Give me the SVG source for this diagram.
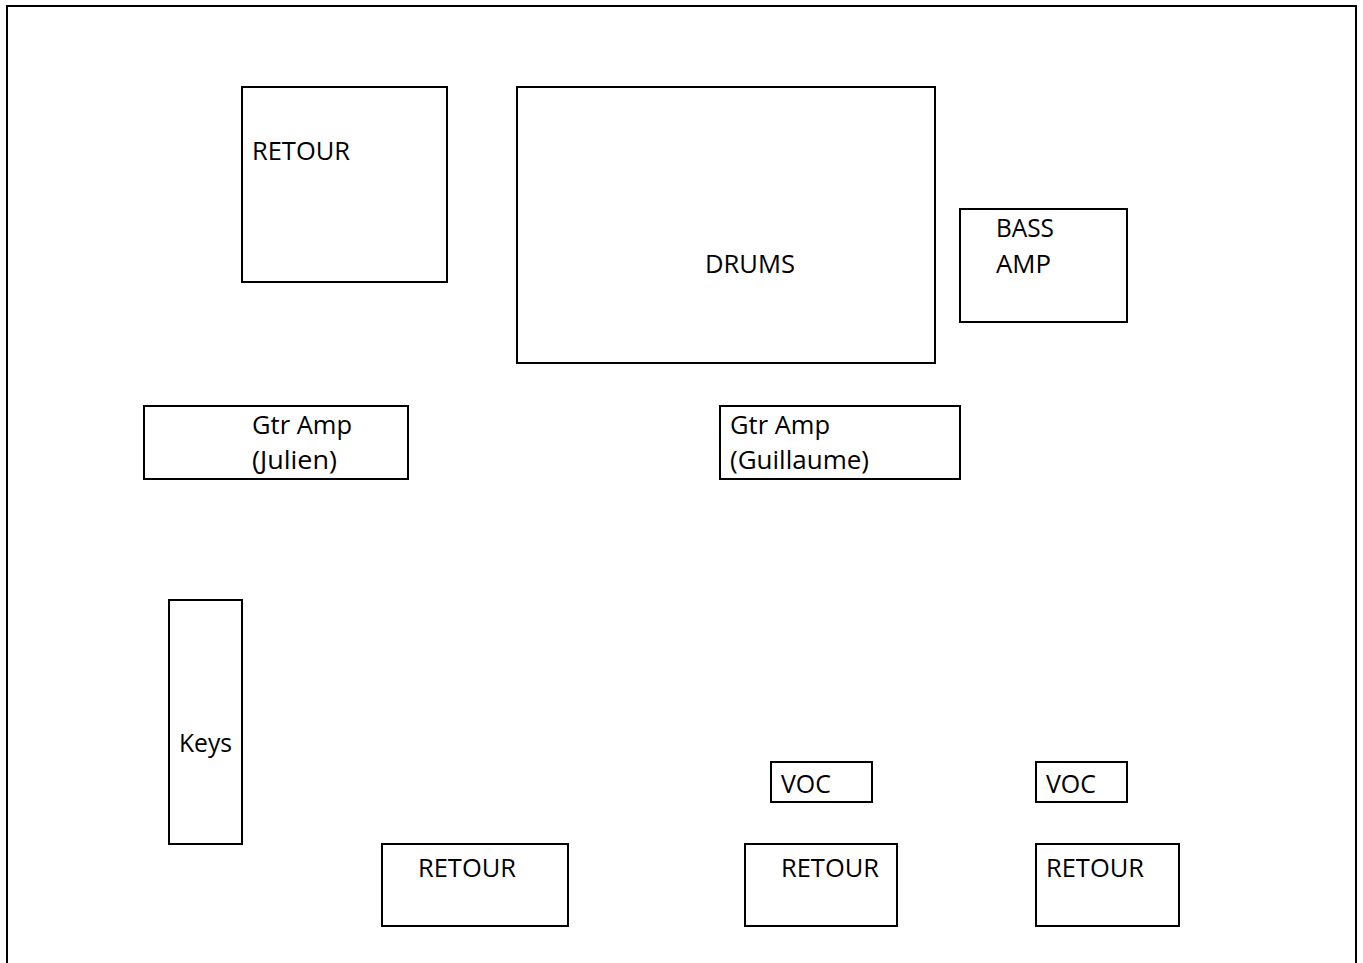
<svg xmlns="http://www.w3.org/2000/svg" width="1363" height="963" viewBox="0 0 1363 963">
<style>
rect.b{fill:#fff;stroke:#000;stroke-width:2}
text{font-family:"Open Sans","Noto Sans",sans-serif;font-size:25px;fill:#000}
</style>
<rect x="0" y="0" width="1363" height="963" fill="#fff"/>
<rect x="7" y="6" width="1349" height="1000" fill="none" stroke="#000" stroke-width="2"/>
<g id="retour-top">
<rect class="b" x="242" y="87" width="205" height="195"/>
<text x="252" y="160" textLength="98" lengthAdjust="spacingAndGlyphs">RETOUR</text>
</g>
<g id="drums">
<rect class="b" x="517" y="87" width="418" height="276"/>
<text x="705" y="273" textLength="90" lengthAdjust="spacingAndGlyphs">DRUMS</text>
</g>
<g id="bass-amp">
<rect class="b" x="960" y="209" width="167" height="113"/>
<text x="996" y="237" textLength="58" lengthAdjust="spacingAndGlyphs">BASS</text>
<text x="996" y="273" textLength="55" lengthAdjust="spacingAndGlyphs">AMP</text>
</g>
<g id="gtr-julien">
<rect class="b" x="144" y="406" width="264" height="73"/>
<text x="252" y="434" textLength="100" lengthAdjust="spacingAndGlyphs">Gtr Amp</text>
<text x="252" y="469" textLength="85" lengthAdjust="spacingAndGlyphs">(Julien)</text>
</g>
<g id="gtr-guillaume">
<rect class="b" x="720" y="406" width="240" height="73"/>
<text x="730" y="434" textLength="100" lengthAdjust="spacingAndGlyphs">Gtr Amp</text>
<text x="730" y="469" textLength="139" lengthAdjust="spacingAndGlyphs">(Guillaume)</text>
</g>
<g id="keys">
<rect class="b" x="169" y="600" width="73" height="244"/>
<text x="179" y="752" textLength="53" lengthAdjust="spacingAndGlyphs">Keys</text>
</g>
<g id="retour-1">
<rect class="b" x="382" y="844" width="186" height="82"/>
<text x="418" y="877" textLength="98" lengthAdjust="spacingAndGlyphs">RETOUR</text>
</g>
<g id="voc-1">
<rect class="b" x="771" y="762" width="101" height="40"/>
<text x="781" y="793" textLength="50" lengthAdjust="spacingAndGlyphs">VOC</text>
</g>
<g id="voc-2">
<rect class="b" x="1036" y="762" width="91" height="40"/>
<text x="1046" y="793" textLength="50" lengthAdjust="spacingAndGlyphs">VOC</text>
</g>
<g id="retour-2">
<rect class="b" x="745" y="844" width="152" height="82"/>
<text x="781" y="877" textLength="98" lengthAdjust="spacingAndGlyphs">RETOUR</text>
</g>
<g id="retour-3">
<rect class="b" x="1036" y="844" width="143" height="82"/>
<text x="1046" y="877" textLength="98" lengthAdjust="spacingAndGlyphs">RETOUR</text>
</g>
<g id="connectors"></g>
</svg>
